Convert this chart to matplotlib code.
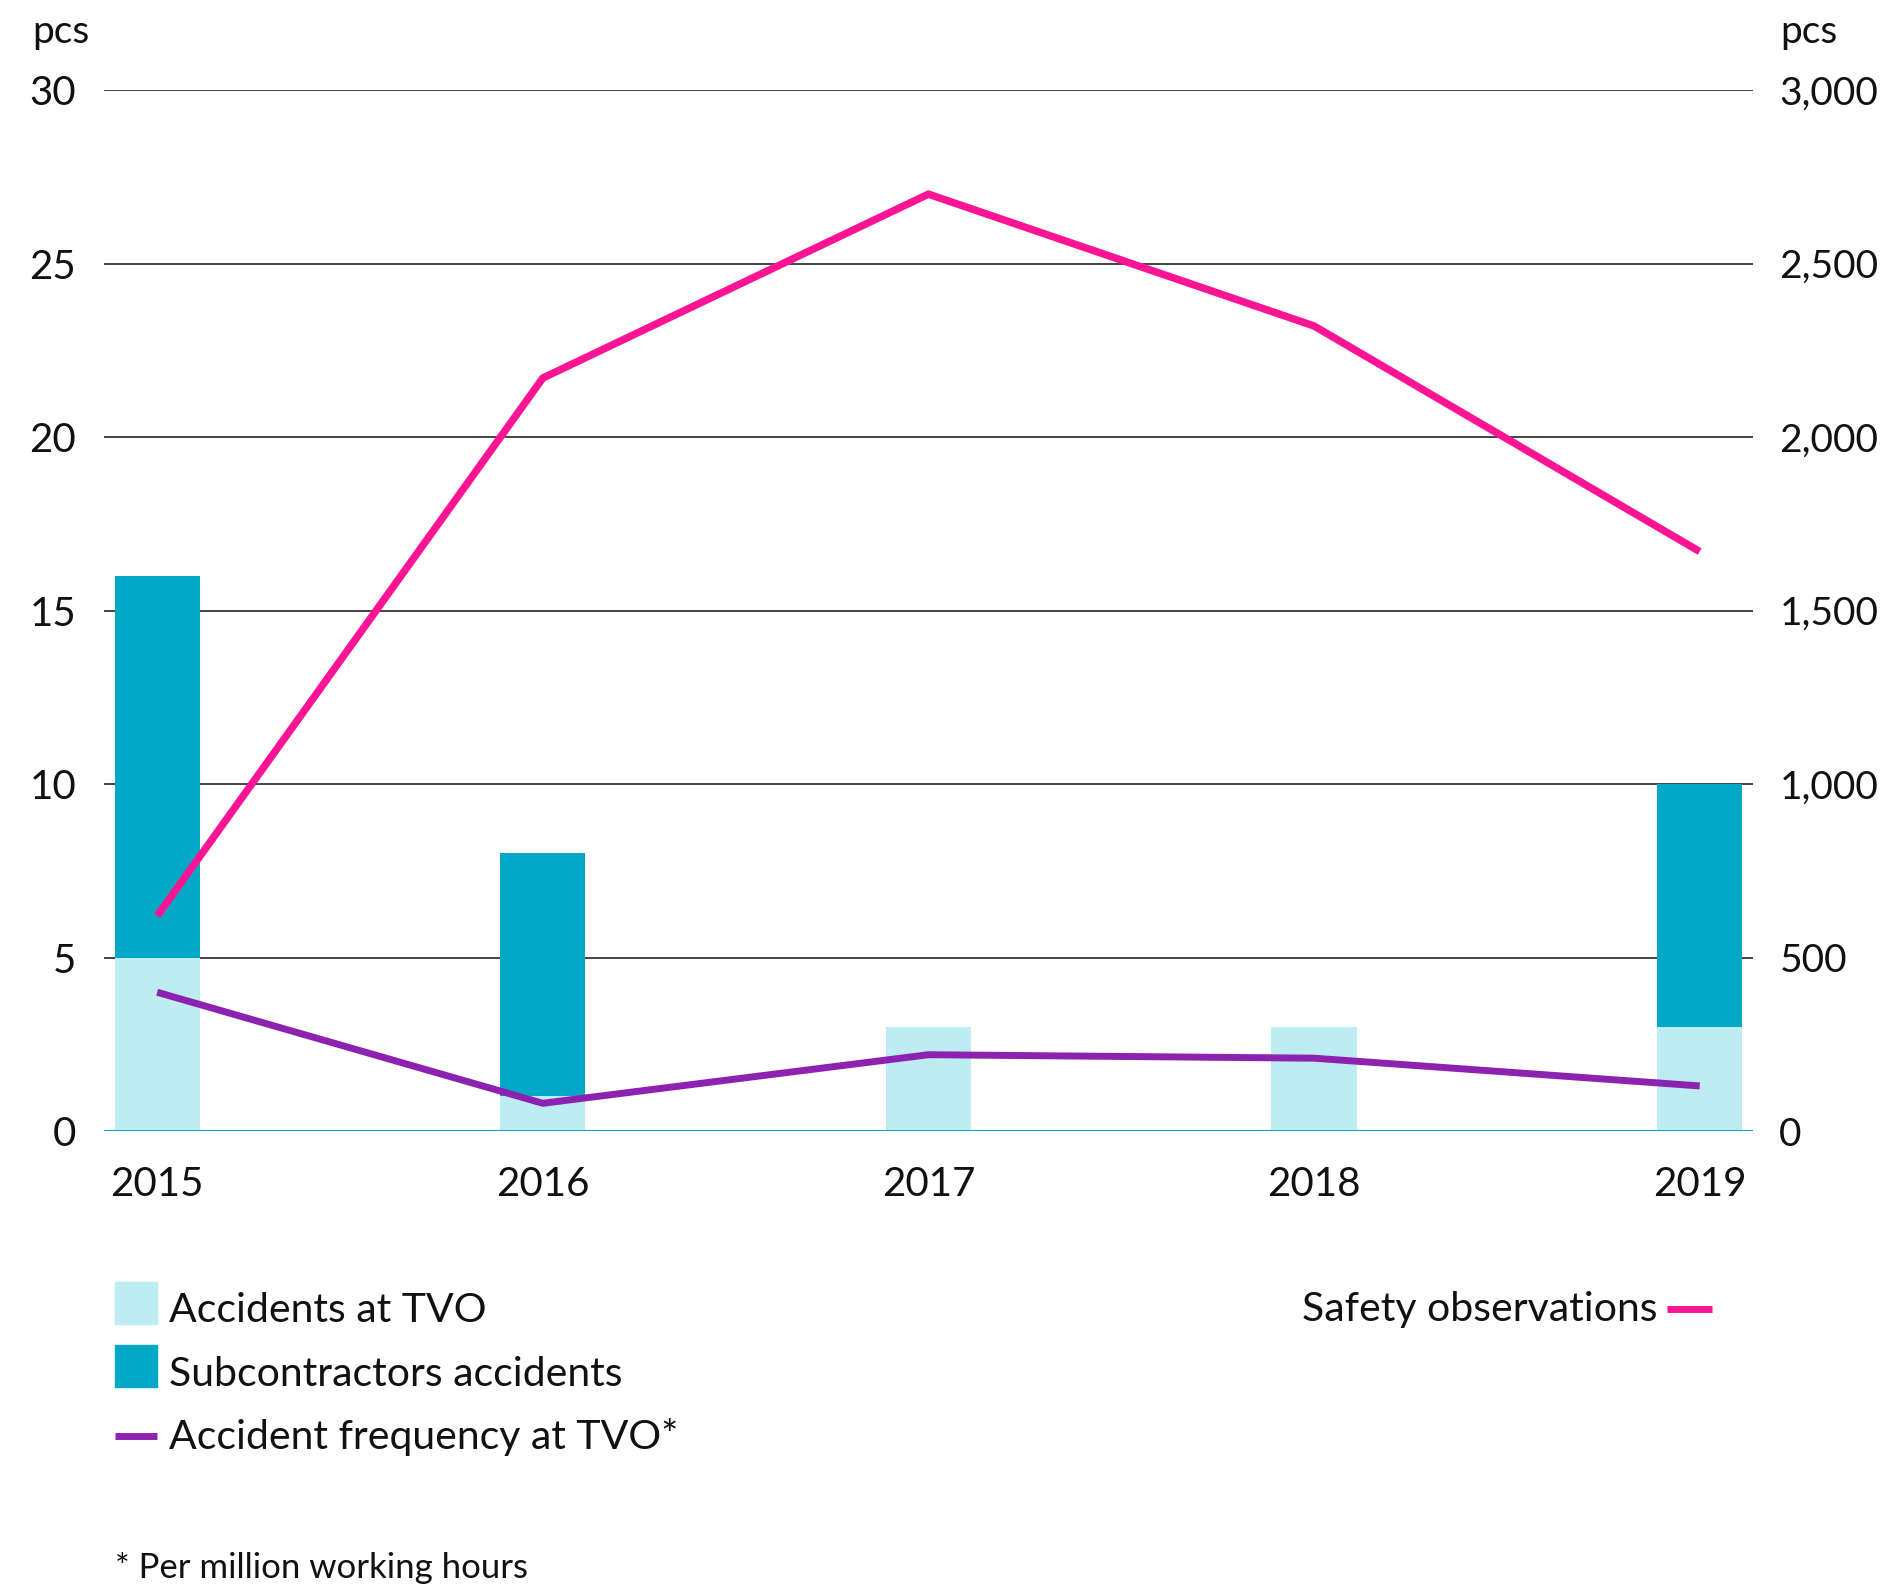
import numpy as np
import matplotlib
matplotlib.use("Agg")
import matplotlib.pyplot as plt
from matplotlib.patches import Rectangle
from matplotlib.lines import Line2D
from matplotlib.ticker import FuncFormatter

plt.rcParams['font.family'] = ['Lato', 'DejaVu Sans']

# data
years = ['2015', '2016', '2017', '2018', '2019']
accidents_tvo = [5, 1, 3, 3, 3]
subcontractor_accidents = [11, 7, 0, 0, 7]
accident_frequency = [4.0, 0.8, 2.2, 2.1, 1.3]
safety_observations = [620, 2170, 2700, 2320, 1670]

c_light = '#bdedf2'
c_dark = '#04a8c7'
c_purple = '#8e22b0'
c_pink = '#fb1594'

fig = plt.figure(figsize=(18.8, 15.85), dpi=100)
ax = fig.add_axes([0.0553, 0.2864, 0.8771, 0.6568])
ax2 = ax.twinx()

x = np.arange(len(years))
w = 0.221

ax.bar(x, accidents_tvo, width=w, color=c_light, zorder=2)
ax.bar(x, subcontractor_accidents, width=w, bottom=accidents_tvo, color=c_dark, zorder=2)
ax.plot(x, accident_frequency, color=c_purple, lw=5, solid_capstyle='butt', zorder=4)

ax2.plot(x, safety_observations, color=c_pink, lw=5.4, solid_capstyle='butt', zorder=4)

ax.set_xlim(-0.138, len(years) - 1 + 0.138)
ax.set_ylim(0, 30)
ax2.set_ylim(0, 3000)
ax.set_yticks(range(0, 31, 5))
ax2.set_yticks(range(0, 3001, 500))
ax2.yaxis.set_major_formatter(FuncFormatter(lambda v, p: f'{int(v):,}'))

# grid lines
for yv in range(5, 31, 5):
    ax.axhline(yv, color='#222222', lw=1.2, zorder=1)
ax.axhline(0, color=c_dark, lw=2.2, zorder=3)

for a in (ax, ax2):
    for s in a.spines.values():
        s.set_visible(False)
    a.tick_params(length=0, labelsize=29, colors='#111111')
ax.tick_params(axis='y', pad=20)
ax2.tick_params(axis='y', pad=19, labelsize=28)
ax.tick_params(axis='x', pad=25)
ax.set_xticks(x)
ax.set_xticklabels(years)
# pink line drawn over the bars
ax2.set_zorder(ax.get_zorder() + 1)
ax2.patch.set_visible(False)

fig.text(32 / 1880, 1 - 32 / 1585, 'pcs', fontsize=28, va='center', ha='left', color='#111111')
fig.text(1780 / 1880, 1 - 32 / 1585, 'pcs', fontsize=28, va='center', ha='left', color='#111111')

# legend
W, H = 1880, 1585
def fx(px):
    return px / W
def fy(py):
    return 1 - py / H

fig.patches.append(Rectangle((fx(115), fy(1324)), fx(157) - fx(115), fy(1282) - fy(1324),
                             transform=fig.transFigure, color=c_light))
fig.patches.append(Rectangle((fx(115), fy(1387)), fx(157) - fx(115), fy(1345) - fy(1387),
                             transform=fig.transFigure, color=c_dark))
fig.lines.append(Line2D([fx(115), fx(157)], [fy(1436), fy(1436)], transform=fig.transFigure,
                        color=c_purple, lw=5, solid_capstyle='butt'))
fig.lines.append(Line2D([fx(1667), fx(1712)], [fy(1309), fy(1309)], transform=fig.transFigure,
                        color=c_pink, lw=5, solid_capstyle='butt'))

leg_kw = dict(fontsize=29.5, va='center', color='#111111')
fig.text(fx(169), fy(1310), 'Accidents at TVO', ha='left', **leg_kw)
fig.text(fx(169), fy(1374), 'Subcontractors accidents', ha='left', **leg_kw)
fig.text(fx(169), fy(1437), 'Accident frequency at TVO*', ha='left', **leg_kw)
fig.text(fx(1657), fy(1310), 'Safety observations', ha='right', **leg_kw)

fig.text(fx(115), fy(1568), '* Per million working hours', fontsize=25, va='center', ha='left',
         color='#111111')

fig.savefig('out.png', dpi=100, facecolor='white')
